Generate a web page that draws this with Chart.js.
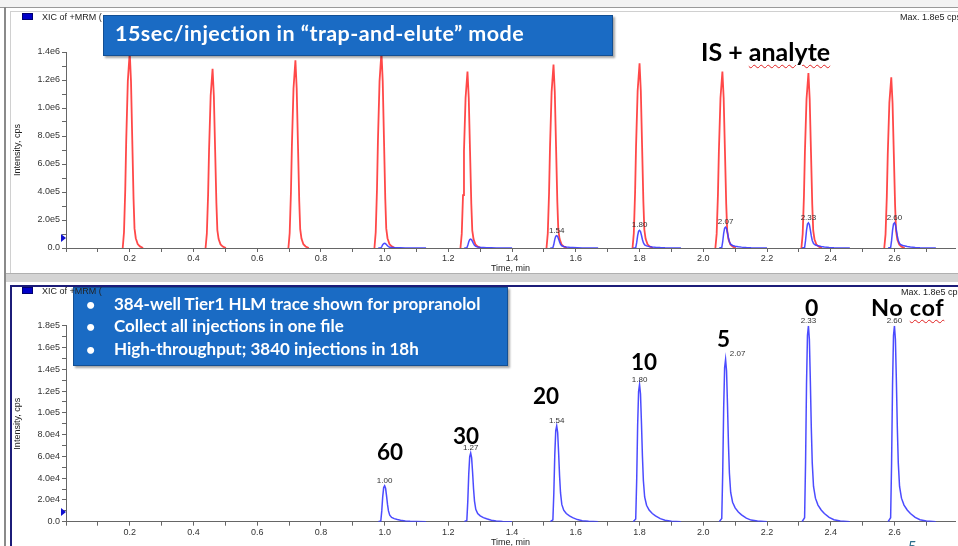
<!DOCTYPE html>
<html>
<head>
<meta charset="utf-8">
<script src="https://cdn.jsdelivr.net/npm/chart.js@4.4.1/dist/chart.umd.min.js"></script>
<style>
body { margin: 0; width: 958px; height: 546px; overflow: hidden; background: #fff; position: relative; font-family: "Liberation Sans", Arial, sans-serif; }
canvas { position: absolute; left: 0; }
#topChart { top: 0; }
#bottomChart { top: 282px; }
.ov { position: absolute; white-space: nowrap; line-height: 1; z-index: 5; }
.box { position: absolute; background: #1a6bc4; border: 1px solid #134f93; box-shadow: 2px 2px 2px rgba(0,0,0,0.35); z-index: 4; }
.line { position: absolute; z-index: 3; }
.big { font-family: Lato, "Open Sans", sans-serif; font-weight: 700; color: #000; }
.small { font-family: "Liberation Sans", Arial, sans-serif; color: #222; }
.wavy { text-decoration: underline wavy #e02020; text-decoration-thickness: 1px; text-underline-offset: 3px; }
.swatch { position: absolute; width: 9px; height: 5px; background: #0000c8; border: 1px solid #000070; z-index: 3; }
.tri { position: absolute; width: 0; height: 0; border-top: 4px solid transparent; border-bottom: 4px solid transparent; border-left: 5px solid #1010d0; z-index: 3; }
</style>
</head>
<body>
<canvas id="topChart" width="958" height="278"></canvas>
<canvas id="bottomChart" width="958" height="270"></canvas>

<script>
// internal standard (red) peaks, top pane
const isTimes = [0.20, 0.46, 0.72, 0.99, 1.26, 1.53, 1.80, 2.06, 2.33, 2.59];
const isHeights = [1.40e6, 1.28e6, 1.34e6, 1.40e6, 1.26e6, 1.31e6, 1.32e6, 1.26e6, 1.25e6, 1.22e6];

// analyte (blue) peaks, both panes
const analyteTimes = [1.00, 1.27, 1.54, 1.80, 2.07, 2.33, 2.60];
const analyteHeights = [3.3e4, 6.3e4, 8.8e4, 1.26e5, 1.49e5, 1.80e5, 1.80e5];
const analyteLabels = ['1.00', '1.27', '1.54', '1.80', '2.07', '2.33', '2.60'];

// peak outlines: minutes from apex, fraction of apex height
const isShapeDt = [-0.022, -0.018, -0.014, -0.011, -0.006, 0, 0.004, 0.008, 0.012, 0.015, 0.019, 0.025, 0.032, 0.042];
const isShapeFrac = [0, 0.08, 0.3, 0.55, 0.85, 1, 0.85, 0.55, 0.25, 0.1, 0.05, 0.02, 0.008, 0];
const anShapeDt = [-0.02, -0.012, -0.009, -0.006, -0.003, 0, 0.003, 0.006, 0.009, 0.012, 0.016, 0.022, 0.03, 0.04, 0.05, 0.065, 0.08, 0.1, 0.13];
const anShapeFrac = [0, 0.02, 0.3, 0.7, 0.95, 1, 0.93, 0.72, 0.48, 0.3, 0.18, 0.12, 0.085, 0.06, 0.042, 0.022, 0.01, 0.004, 0];

// tick labels
const timeTickLabels = ['0.2', '0.4', '0.6', '0.8', '1.0', '1.2', '1.4', '1.6', '1.8', '2.0', '2.2', '2.4', '2.6'];
const topIntensityLabels = ['0.0', '2.0e5', '4.0e5', '6.0e5', '8.0e5', '1.0e6', '1.2e6', '1.4e6'];
const bottomIntensityLabels = ['0.0', '2.0e4', '4.0e4', '6.0e4', '8.0e4', '1.0e5', '1.2e5', '1.4e5', '1.6e5', '1.8e5'];

function trace(times, heights, dt, frac) {
    const pts = [];
    times.forEach((t, i) => {
        dt.forEach((d, j) => pts.push({ x: t + d, y: heights[i] * frac[j] }));
        pts.push({ x: t + dt[dt.length - 1] + 0.001, y: null });
    });
    return pts;
}

function timeLabel(value) {
    const k = Math.round(value * 10);
    if (k > 0 && k % 2 === 0) return timeTickLabels[k / 2 - 1] || '';
    return '';
}

function intensityLabel(labels, major) {
    return function (value) {
        const k = Math.round(value / major * 2);
        if (k % 2 === 0) return labels[k / 2] || '';
        return '';
    };
}

const peakLabelPlugin = {
    id: 'peakLabels',
    afterDatasetsDraw(chart, args, opts) {
        const { ctx, scales: { x, y } } = chart;
        ctx.save();
        ctx.font = '8px "Liberation Sans"';
        ctx.fillStyle = '#333';
        ctx.textAlign = 'center';
        opts.items.forEach(i => {
            const px = x.getPixelForValue(analyteTimes[i]) + ((opts.shift || {})[i] || 0);
            const py = y.getPixelForValue(analyteHeights[i]);
            ctx.fillText(analyteLabels[i], px, py - 3);
        });
        ctx.restore();
    }
};

const tickFont = { size: 9, family: 'Liberation Sans' };

function panel(id, datasets, yMax, yStep, yLabels, padTop, canvasH, chartBottom, titlePad, labelOpts) {
    return new Chart(document.getElementById(id), {
        type: 'line',
        data: { datasets: datasets },
        options: {
            responsive: false,
            animation: false,
            devicePixelRatio: 1,
            layout: { padding: { left: 0, right: 3, top: padTop, bottom: 0 } },
            elements: { point: { radius: 0 }, line: { borderWidth: 1.5, tension: 0 } },
            plugins: {
                legend: { display: false },
                tooltip: { enabled: false },
                peakLabels: labelOpts
            },
            scales: {
                x: {
                    type: 'linear', min: 0, max: 2.79,
                    afterFit: s => { s.height = canvasH - chartBottom; },
                    border: { color: '#666' },
                    grid: { drawOnChartArea: false, tickLength: 4, color: '#666' },
                    ticks: { stepSize: 0.1, includeBounds: false, autoSkip: false, maxRotation: 0, padding: 1, font: tickFont, color: '#333', callback: timeLabel },
                    title: { display: true, text: 'Time, min', font: tickFont, color: '#222', padding: { top: 0, bottom: titlePad } }
                },
                y: {
                    min: 0, max: yMax,
                    afterFit: s => { s.width = 66; },
                    border: { color: '#666' },
                    grid: { drawOnChartArea: false, tickLength: 4, color: '#666' },
                    ticks: { stepSize: yStep, autoSkip: false, padding: 2, font: tickFont, color: '#333', callback: intensityLabel(yLabels, yStep * 2) },
                    title: { display: true, text: 'Intensity, cps', font: tickFont, color: '#222', padding: { top: 12, bottom: 0 } }
                }
            }
        },
        plugins: [peakLabelPlugin]
    });
}

const red = 'rgba(255,40,40,0.85)';
const blue = 'rgba(60,60,255,0.92)';

panel('topChart', [
    { data: trace(analyteTimes, analyteHeights, anShapeDt, anShapeFrac), borderColor: blue },
    { data: trace(isTimes, isHeights, isShapeDt, isShapeFrac), borderColor: red, borderWidth: 1.8 }
], 1.4e6, 1e5, topIntensityLabels, 52, 278, 248, 4.5, { items: [2, 3, 4, 5, 6] });

panel('bottomChart', [
    { data: trace(analyteTimes, analyteHeights, anShapeDt, anShapeFrac), borderColor: blue }
], 1.8e5, 1e4, bottomIntensityLabels, 43.7, 270, 239.7, 3.9, { items: [0, 1, 2, 3, 4, 5, 6], shift: { 4: 12 } });

// overlay text and frames
function el(cls, css, html) {
    const d = document.createElement('div');
    d.className = cls;
    Object.assign(d.style, css);
    if (html !== undefined) d.innerHTML = html;
    document.body.appendChild(d);
    return d;
}
function text(html, left, baseline, size, cls, extra) {
    const asc = cls.indexOf('big') >= 0 || cls.indexOf('lato') >= 0 ? 0.887 : 0.847;
    return el('ov ' + cls, Object.assign({ left: left + 'px', top: (baseline - asc * size) + 'px', fontSize: size + 'px' }, extra || {}), html);
}

// window frames
el('line', { left: '0px', top: '0px', width: '958px', height: '7px', background: '#f3f3f3' });
el('line', { left: '0px', top: '7px', width: '958px', height: '1px', background: '#9a9a9a' });
el('line', { left: '10px', top: '11px', width: '948px', height: '1px', background: '#d0d0d0' });
el('line', { left: '4px', top: '7px', width: '2px', height: '539px', background: '#8a8a8a' });
el('line', { left: '10px', top: '11px', width: '1px', height: '262px', background: '#d0d0d0' });
el('line', { left: '6px', top: '274px', width: '952px', height: '8px', background: '#d4d4d4' });
el('line', { left: '6px', top: '273px', width: '952px', height: '1px', background: '#b0b0b0' });
el('line', { left: '10px', top: '285px', width: '948px', height: '2px', background: '#1c1c78' });
el('line', { left: '10px', top: '285px', width: '2px', height: '261px', background: '#1c1c78' });

el('swatch', { left: '22px', top: '13px' });
el('swatch', { left: '22px', top: '287px' });
el('tri', { left: '61px', top: '234px' });
el('tri', { left: '61px', top: '508px' });

text('XIC of +MRM (', 42, 21, 9, 'small');
text('XIC of +MRM (', 42, 295, 9, 'small');
text('Max. 1.8e5 cps', 900, 21, 9, 'small');
text('Max. 1.8e5 cps', 901, 296, 9, 'small');

// call-out boxes
const white = { color: '#fff', fontFamily: 'Lato, sans-serif', fontWeight: '700' };
el('box', { left: '103px', top: '15px', width: '508px', height: '39px' });
text('15sec/injection in \u201ctrap-and-elute\u201d mode', 115, 42, 21.5, 'lato', Object.assign({ letterSpacing: '0.45px' }, white));

el('box', { left: '73px', top: '287px', width: '433px', height: '77px' });
const bullets = ['384-well Tier1 HLM trace shown for propranolol', 'Collect all injections in one file', 'High-throughput; 3840 injections in 18h'];
const bulletBase = [310, 332.5, 355];
bullets.forEach((b, i) => {
    text('\u2022', 86, bulletBase[i], 16, 'lato', white);
    text(b, 114, bulletBase[i], 17, 'lato', white);
});

// annotations
text('IS + <span class="wavy">analyte</span>', 701, 61, 25, 'big');
text('60', 377, 461, 22.5, 'big');
text('30', 453, 445, 22.5, 'big');
text('20', 533, 405, 22.5, 'big');
text('10', 631, 371, 22.5, 'big');
text('5', 717, 348, 22.5, 'big');
text('0', 805, 316.5, 23, 'big');
text('No <span class="wavy">cof</span>', 871, 316.5, 23.5, 'big', { letterSpacing: '0.6px' });
text('5', 908, 552, 15, 'lato', { color: '#2b6d8c', fontFamily: 'Lato, sans-serif' });
</script>
</body>
</html>
